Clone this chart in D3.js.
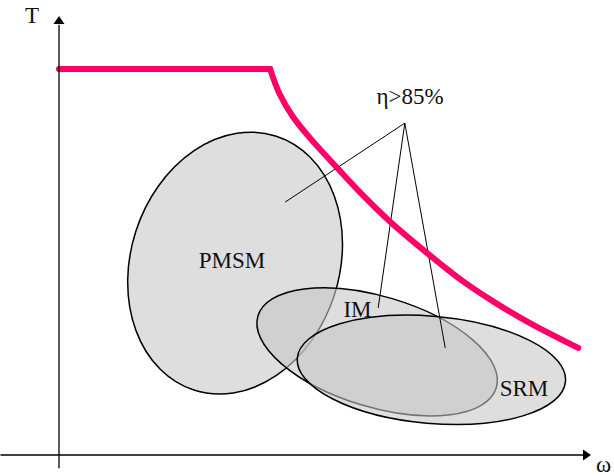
<!DOCTYPE html>
<html>
<head>
<meta charset="utf-8">
<script src="https://cdn.jsdelivr.net/npm/d3@7/dist/d3.min.js"></script>
<style>
  html, body { margin: 0; padding: 0; background: #fff; }
  svg { display: block; }
  text { font-family: "Liberation Serif", "DejaVu Serif", serif; fill: #111; }
</style>
</head>
<body>
<svg id="chart" width="614" height="476"></svg>
<script>
// Torque–speed envelope (arbitrary units): constant torque, then field weakening
const envelopeOmega = [0, 39.7];
const envelopeTorque = [87.9, 87.9];
const weakeningOmega = [39.7, 41.4, 44.0, 47.4, 52.3, 57.1, 62.2, 69.2, 75.9, 81.6, 88.0, 97.6];
const weakeningTorque = [87.9, 82.4, 77.0, 71.9, 65.4, 59.2, 53.2, 46.0, 39.6, 35.0, 30.4, 24.4];

// High-efficiency regions of each machine type
const machineNames = ["PMSM", "IM", "SRM"];
const regionOmega = [33.1, 59.8, 70.0];
const regionTorque = [43.7, 23.5, 19.4];
const regionHalfOmega = [19.6, 23.4, 25.3];
const regionHalfTorque = [30.4, 12.6, 12.2];
const regionTilt = [18, 16.8, 5];

// Machine label anchors
const labelOmega = [32.5, 56.1, 87.4];
const labelTorque = [42.6, 31.4, 13.5];

// Efficiency callout and its leader targets
const calloutText = "η>85%";
const calloutOmega = 66.0, calloutTorque = 79.9;
const apexOmega = 65.0, apexTorque = 75.6;
const leaderOmega = [42.5, 60.0, 72.6];
const leaderTorque = [57.6, 33.5, 24.4];

const svg = d3.select("#chart");
const x = d3.scaleLinear().domain([0, 100]).range([59, 591]);
const y = d3.scaleLinear().domain([0, 100]).range([455, 16]);

// Regions (translucent grey, later ones over earlier ones)
const regions = machineNames.map((n, i) => ({
  name: n, w: regionOmega[i], t: regionTorque[i],
  rw: regionHalfOmega[i], rt: regionHalfTorque[i], tilt: regionTilt[i]
}));
svg.append("g").selectAll("ellipse").data(regions).join("ellipse")
  .attr("transform", d => `translate(${x(d.w)},${y(d.t)}) rotate(${d.tilt})`)
  .attr("rx", d => x(d.rw) - x(0))
  .attr("ry", d => y(0) - y(d.rt))
  .attr("fill", "rgb(198,198,198)")
  .attr("fill-opacity", 0.58)
  .attr("stroke", "#000")
  .attr("stroke-width", 1.5);

// Machine labels
svg.append("g").selectAll("text").data(machineNames).join("text")
  .attr("x", (d, i) => x(labelOmega[i]))
  .attr("y", (d, i) => y(labelTorque[i]))
  .attr("text-anchor", "middle")
  .attr("font-size", 23)
  .text(d => d);

// Leader lines from the callout
svg.append("g").selectAll("line").data(leaderOmega).join("line")
  .attr("x1", x(apexOmega)).attr("y1", y(apexTorque))
  .attr("x2", d => x(d))
  .attr("y2", (d, i) => y(leaderTorque[i]))
  .attr("stroke", "#000").attr("stroke-width", 1);

svg.append("text")
  .attr("x", x(calloutOmega)).attr("y", y(calloutTorque))
  .attr("text-anchor", "middle")
  .attr("font-size", 23)
  .text(calloutText);

// Torque envelope
const env = d3.line().x(d => x(d[0])).y(d => y(d[1]));
const red = "#ff0066";
svg.append("path")
  .attr("d", env(d3.zip(envelopeOmega, envelopeTorque)))
  .attr("fill", "none").attr("stroke", red).attr("stroke-width", 6)
  .attr("stroke-linecap", "round");
svg.append("path")
  .attr("d", env.curve(d3.curveCatmullRom.alpha(0.5))(d3.zip(weakeningOmega, weakeningTorque)))
  .attr("fill", "none").attr("stroke", red).attr("stroke-width", 6)
  .attr("stroke-linecap", "round").attr("stroke-linejoin", "round");

// Axes with arrowheads
const ax = svg.append("g");
ax.append("line")
  .attr("x1", x(0)).attr("y1", y(-3)).attr("x2", x(0)).attr("y2", y(98))
  .attr("stroke", "#000").attr("stroke-width", 1.3);
ax.append("line")
  .attr("x1", x(-11)).attr("y1", y(0)).attr("x2", x(98.5)).attr("y2", y(0))
  .attr("stroke", "#000").attr("stroke-width", 1.3);
ax.append("path")
  .attr("d", `M${x(0)},${y(100)} L${x(0) - 5.5},${y(100) + 8} L${x(0) + 5.5},${y(100) + 8} Z`)
  .attr("fill", "#000");
ax.append("path")
  .attr("d", `M${x(100)},${y(0)} L${x(100) - 8},${y(0) - 5.5} L${x(100) - 8},${y(0) + 5.5} Z`)
  .attr("fill", "#000");
ax.append("text").attr("x", 25).attr("y", 23).attr("font-size", 23).text("T");
ax.append("text").attr("x", 596).attr("y", 472).attr("font-size", 23).text("ω");
</script>
</body>
</html>
